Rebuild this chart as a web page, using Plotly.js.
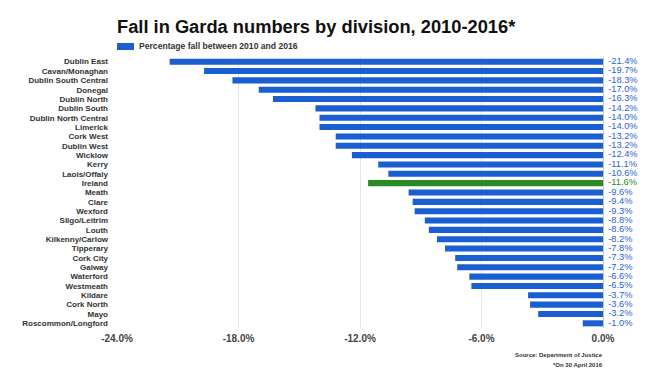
<!DOCTYPE html>
<html>
<head>
<meta charset="utf-8">
<script src="https://cdn.plot.ly/plotly-3.0.1.min.js"></script>
<style>html,body{margin:0;padding:0;background:#fff;}#chart{width:650px;height:383px;}</style>
</head>
<body>
<div id="chart"></div>
<script>
const divisions = ["Dublin East","Cavan/Monaghan","Dublin South Central","Donegal","Dublin North","Dublin South","Dublin North Central","Limerick","Cork West","Dublin West","Wicklow","Kerry","Laois/Offaly","Ireland","Meath","Clare","Wexford","Sligo/Leitrim","Louth","Kilkenny/Carlow","Tipperary","Cork City","Galway","Waterford","Westmeath","Kildare","Cork North","Mayo","Roscommon/Longford"];
const pctFall = [-21.4,-19.7,-18.3,-17.0,-16.3,-14.2,-14.0,-14.0,-13.2,-13.2,-12.4,-11.1,-10.6,-11.6,-9.6,-9.4,-9.3,-8.8,-8.6,-8.2,-7.8,-7.3,-7.2,-6.6,-6.5,-3.7,-3.6,-3.2,-1.0];
const xTickVals = [-24,-18,-12,-6,0];
const xTickText = ["-24.0%","-18.0%","-12.0%","-6.0%","0.0%"];
const highlight = "Ireland";

const BLUE = "#1a5fd2", GREEN = "#2b8a25";
const colors = divisions.map(d => d === highlight ? GREEN : BLUE);
const labelColors = divisions.map(d => d === highlight ? GREEN : "#2a5fd8");
const labels = pctFall.map(v => "\u00a0\u00a0" + v.toFixed(1) + "%");

const bars = {
  type: "bar", orientation: "h",
  x: pctFall, y: divisions,
  marker: {color: colors},
  hoverinfo: "skip", showlegend: false
};
const valueText = {
  type: "scatter", mode: "text",
  x: divisions.map(() => 0), y: divisions,
  text: labels, textposition: "middle right",
  textfont: {family: "Liberation Sans, Arial, sans-serif", size: 9.3, color: labelColors},
  cliponaxis: false, hoverinfo: "skip", showlegend: false
};

const layout = {
  width: 650, height: 383,
  margin: {l: 117, r: 47, t: 57, b: 55},
  paper_bgcolor: "#fff", plot_bgcolor: "#fff",
  bargap: 0.35,
  font: {family: "Liberation Sans, Arial, sans-serif"},
  title: {
    text: "<b>Fall in Garda numbers by division, 2010-2016*</b>",
    font: {size: 18.3, color: "#111"},
    x: 117/650, xanchor: "left", y: 1 - 27/383, yanchor: "middle"
  },
  xaxis: {
    range: [-24, 0], tickvals: xTickVals, ticktext: xTickText,
    showgrid: true, gridcolor: "#e6e6e6", gridwidth: 1,
    zeroline: true, zerolinecolor: "#c4c4c4", zerolinewidth: 1,
    tickfont: {size: 10, color: "#444", weight: "bold"},
    ticks: "", ticklabelstandoff: 3, fixedrange: true
  },
  yaxis: {
    type: "category", range: [divisions.length - 0.5, -0.5],
    tickmode: "array", tickvals: divisions, ticktext: divisions,
    tickfont: {size: 8, color: "#333", weight: "bold"},
    ticks: "", ticklabelstandoff: 8, showgrid: false, fixedrange: true
  },
  shapes: [{
    type: "rect", xref: "paper", yref: "paper",
    x0: 0, x1: 17/486, y0: 1 + (57-43)/271, y1: 1 + (57-50)/271,
    fillcolor: BLUE, line: {width: 0}
  }],
  annotations: [
    {xref: "paper", yref: "paper", x: 20/486, y: 1 + (57-46.5)/271, xanchor: "left", yanchor: "middle",
     text: "<b>Percentage fall between 2010 and 2016</b>", showarrow: false,
     font: {size: 8.6, color: "#333"}},
    {xref: "paper", yref: "paper", x: 1, y: -(355-328)/271, xanchor: "right", yanchor: "middle", xshift: 2,
     text: "<b>Source: Department of Justice</b>", showarrow: false, font: {size: 6, color: "#333"}},
    {xref: "paper", yref: "paper", x: 1, y: -(365-328)/271, xanchor: "right", yanchor: "middle", xshift: 2,
     text: "<b>*On 30 April 2016</b>", showarrow: false, font: {size: 6, color: "#333"}}
  ]
};

Plotly.newPlot("chart", [bars, valueText], layout, {displayModeBar: false, staticPlot: true});
</script>
</body>
</html>
